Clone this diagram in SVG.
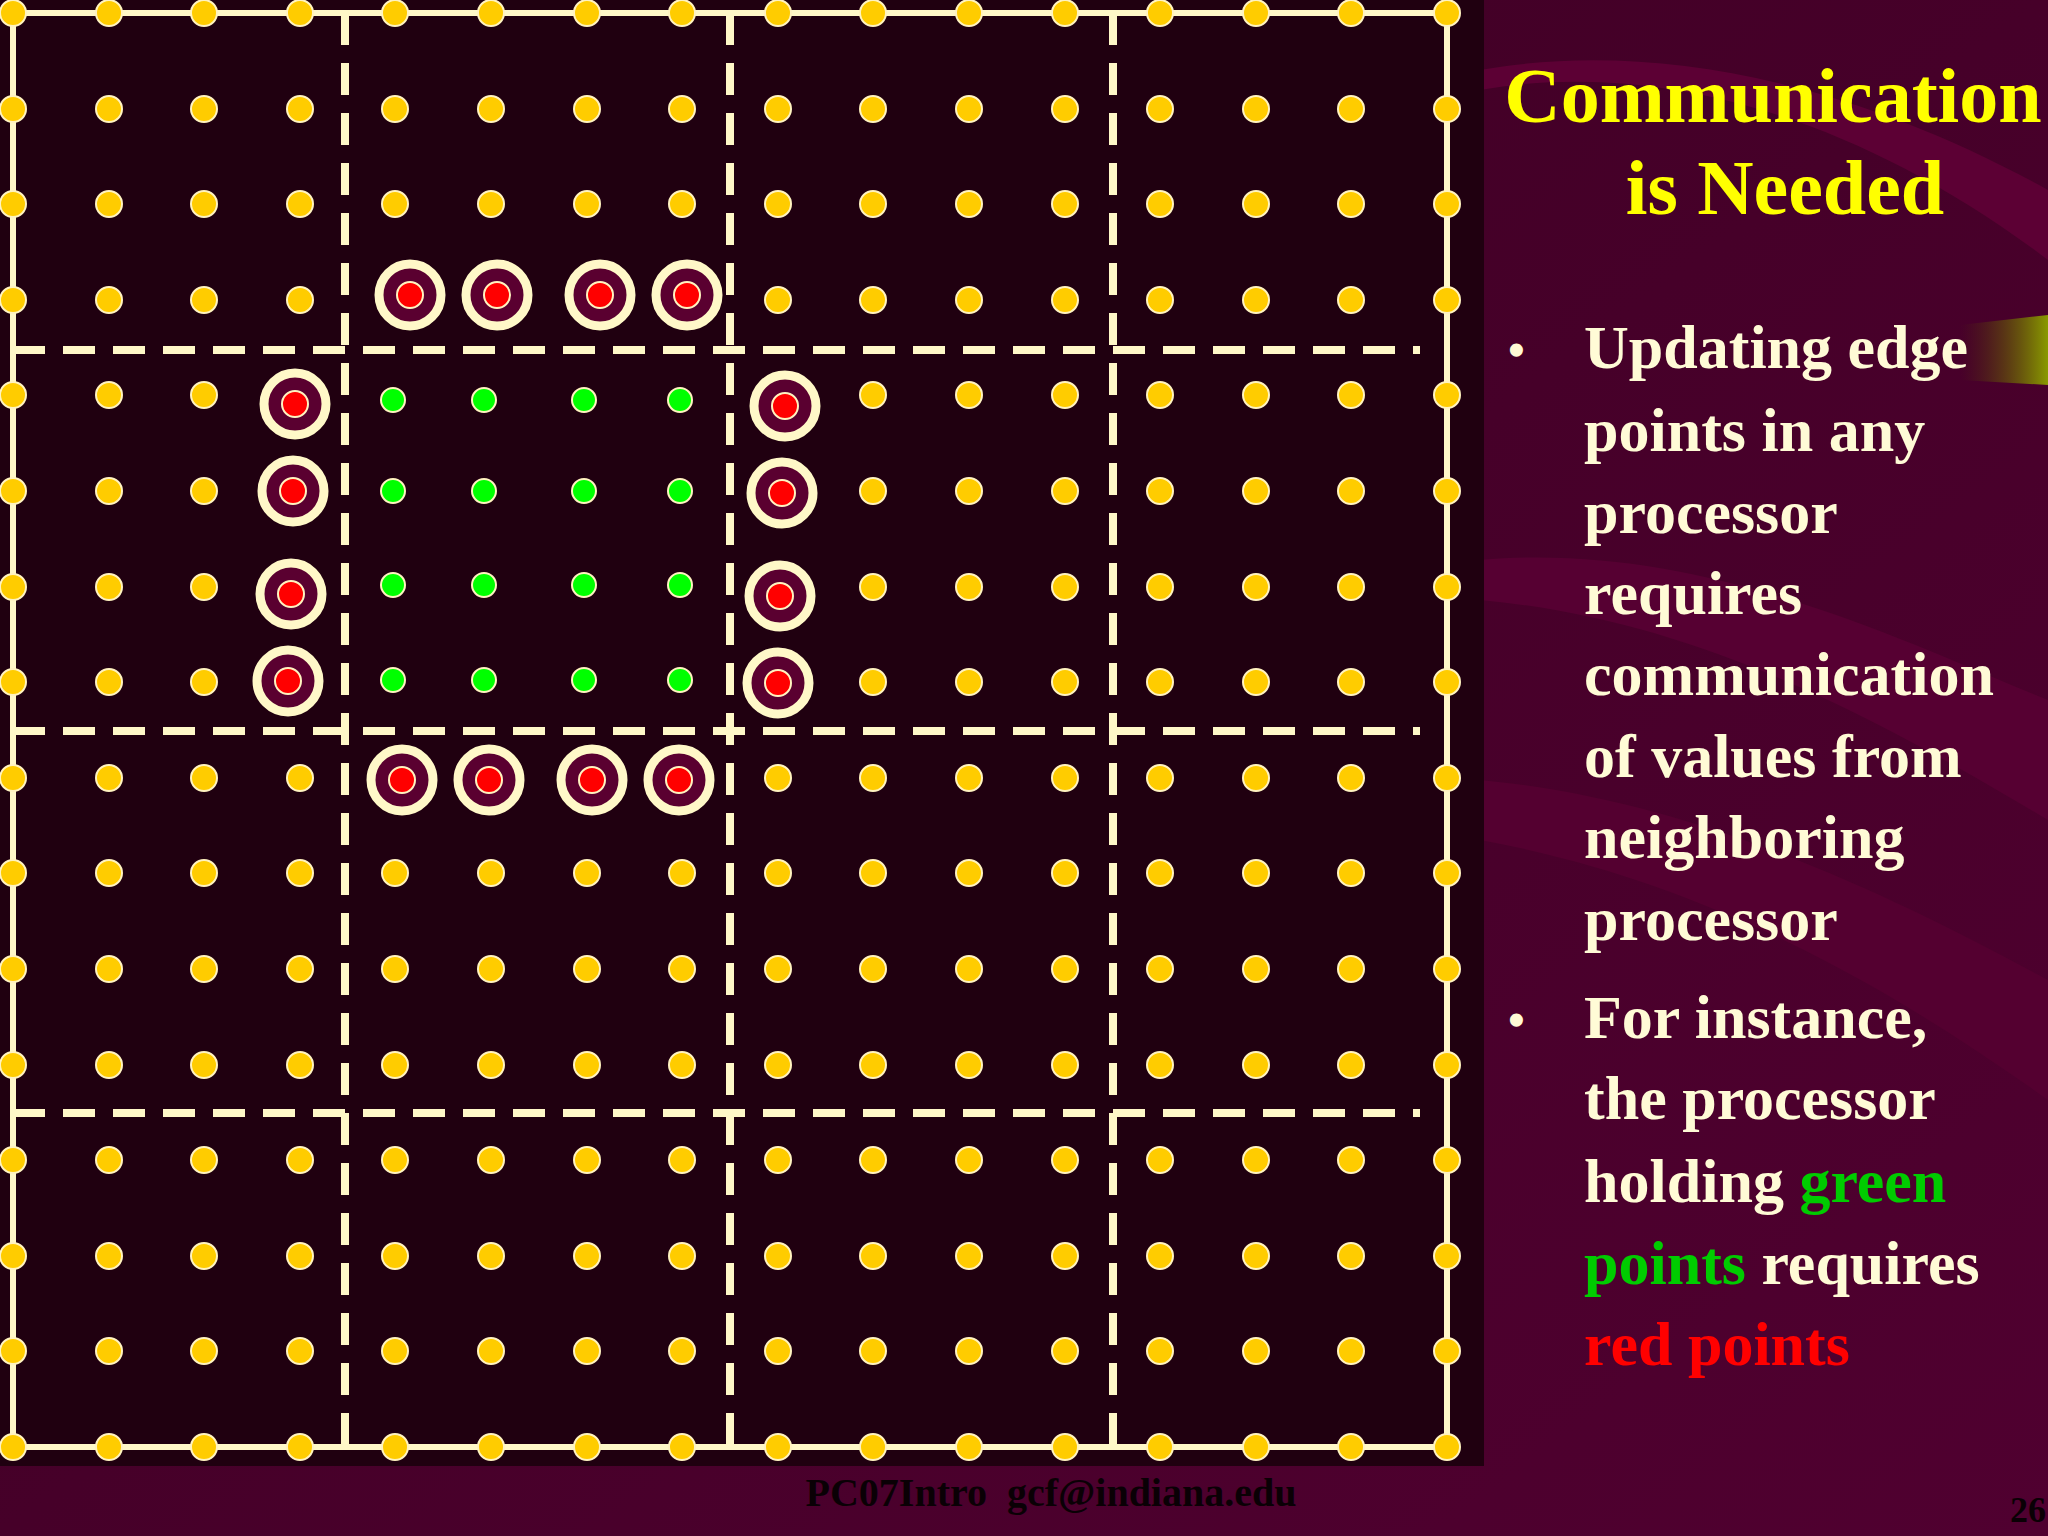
<svg xmlns="http://www.w3.org/2000/svg" width="2048" height="1536" viewBox="0 0 2048 1536">
<style>
.y{fill:#ffcc00;stroke:#fff3c0;stroke-width:2}
.g{fill:#00ff00;stroke:#fff3c0;stroke-width:2}
.ring{fill:#5a0030;stroke:#fff8c8;stroke-width:9}
.red{fill:#ff0000;stroke:#fff3c0;stroke-width:2}
.d{stroke:#fff8c8;stroke-width:8;stroke-dasharray:32 18;fill:none}
.t{font-family:"Liberation Serif",serif;font-weight:bold}
.b{fill:#fffbd6;font-size:62px}
</style>
<defs>
<linearGradient id="bg" x1="0" y1="0" x2="1" y2="1"><stop offset="0" stop-color="#3c0022"/><stop offset="1" stop-color="#500030"/></linearGradient>
<linearGradient id="ban" x1="0" x2="1"><stop offset="0" stop-color="#4a3a00" stop-opacity="0"/><stop offset="1" stop-color="#8a9a00"/></linearGradient>
</defs>
<rect width="2048" height="1536" fill="url(#bg)"/>
<path d="M1480 90 C1650 60 1850 110 2048 260 L2048 190 C1850 80 1650 40 1480 70Z" fill="#5c0034"/>
<path d="M1480 560 C1700 540 1900 640 2048 700 L2048 820 C1880 720 1700 620 1480 600Z" fill="#560032"/>
<path d="M1480 780 C1700 800 1900 900 2048 980 L2048 1100 C1880 980 1700 880 1480 840Z" fill="#540030"/>
<path d="M1960 325 L2048 315 L2048 385 L1960 380Z" fill="url(#ban)"/>
<rect x="0" y="0" width="1484" height="1466" fill="#200010"/>
<g id="grid">
<rect x="13" y="13" width="1434" height="1434" fill="none" stroke="#fff8c8" stroke-width="6"/>
<path class="d" d="M345 13V1447M730 13V1447M1113 13V1447M13 350H1420M13 731H1420M13 1113H1420"/>
</g>
<g id="points">
<g class="y">
<circle cx="13" cy="13" r="13"/><circle cx="109" cy="13" r="13"/><circle cx="204" cy="13" r="13"/><circle cx="300" cy="13" r="13"/><circle cx="395" cy="13" r="13"/><circle cx="491" cy="13" r="13"/><circle cx="587" cy="13" r="13"/><circle cx="682" cy="13" r="13"/><circle cx="778" cy="13" r="13"/><circle cx="873" cy="13" r="13"/><circle cx="969" cy="13" r="13"/><circle cx="1065" cy="13" r="13"/><circle cx="1160" cy="13" r="13"/><circle cx="1256" cy="13" r="13"/><circle cx="1351" cy="13" r="13"/><circle cx="1447" cy="13" r="13"/>
<circle cx="13" cy="109" r="13"/><circle cx="109" cy="109" r="13"/><circle cx="204" cy="109" r="13"/><circle cx="300" cy="109" r="13"/><circle cx="395" cy="109" r="13"/><circle cx="491" cy="109" r="13"/><circle cx="587" cy="109" r="13"/><circle cx="682" cy="109" r="13"/><circle cx="778" cy="109" r="13"/><circle cx="873" cy="109" r="13"/><circle cx="969" cy="109" r="13"/><circle cx="1065" cy="109" r="13"/><circle cx="1160" cy="109" r="13"/><circle cx="1256" cy="109" r="13"/><circle cx="1351" cy="109" r="13"/><circle cx="1447" cy="109" r="13"/>
<circle cx="13" cy="204" r="13"/><circle cx="109" cy="204" r="13"/><circle cx="204" cy="204" r="13"/><circle cx="300" cy="204" r="13"/><circle cx="395" cy="204" r="13"/><circle cx="491" cy="204" r="13"/><circle cx="587" cy="204" r="13"/><circle cx="682" cy="204" r="13"/><circle cx="778" cy="204" r="13"/><circle cx="873" cy="204" r="13"/><circle cx="969" cy="204" r="13"/><circle cx="1065" cy="204" r="13"/><circle cx="1160" cy="204" r="13"/><circle cx="1256" cy="204" r="13"/><circle cx="1351" cy="204" r="13"/><circle cx="1447" cy="204" r="13"/>
<circle cx="13" cy="300" r="13"/><circle cx="109" cy="300" r="13"/><circle cx="204" cy="300" r="13"/><circle cx="300" cy="300" r="13"/><circle cx="778" cy="300" r="13"/><circle cx="873" cy="300" r="13"/><circle cx="969" cy="300" r="13"/><circle cx="1065" cy="300" r="13"/><circle cx="1160" cy="300" r="13"/><circle cx="1256" cy="300" r="13"/><circle cx="1351" cy="300" r="13"/><circle cx="1447" cy="300" r="13"/>
<circle cx="13" cy="395" r="13"/><circle cx="109" cy="395" r="13"/><circle cx="204" cy="395" r="13"/><circle cx="873" cy="395" r="13"/><circle cx="969" cy="395" r="13"/><circle cx="1065" cy="395" r="13"/><circle cx="1160" cy="395" r="13"/><circle cx="1256" cy="395" r="13"/><circle cx="1351" cy="395" r="13"/><circle cx="1447" cy="395" r="13"/>
<circle cx="13" cy="491" r="13"/><circle cx="109" cy="491" r="13"/><circle cx="204" cy="491" r="13"/><circle cx="873" cy="491" r="13"/><circle cx="969" cy="491" r="13"/><circle cx="1065" cy="491" r="13"/><circle cx="1160" cy="491" r="13"/><circle cx="1256" cy="491" r="13"/><circle cx="1351" cy="491" r="13"/><circle cx="1447" cy="491" r="13"/>
<circle cx="13" cy="587" r="13"/><circle cx="109" cy="587" r="13"/><circle cx="204" cy="587" r="13"/><circle cx="873" cy="587" r="13"/><circle cx="969" cy="587" r="13"/><circle cx="1065" cy="587" r="13"/><circle cx="1160" cy="587" r="13"/><circle cx="1256" cy="587" r="13"/><circle cx="1351" cy="587" r="13"/><circle cx="1447" cy="587" r="13"/>
<circle cx="13" cy="682" r="13"/><circle cx="109" cy="682" r="13"/><circle cx="204" cy="682" r="13"/><circle cx="873" cy="682" r="13"/><circle cx="969" cy="682" r="13"/><circle cx="1065" cy="682" r="13"/><circle cx="1160" cy="682" r="13"/><circle cx="1256" cy="682" r="13"/><circle cx="1351" cy="682" r="13"/><circle cx="1447" cy="682" r="13"/>
<circle cx="13" cy="778" r="13"/><circle cx="109" cy="778" r="13"/><circle cx="204" cy="778" r="13"/><circle cx="300" cy="778" r="13"/><circle cx="778" cy="778" r="13"/><circle cx="873" cy="778" r="13"/><circle cx="969" cy="778" r="13"/><circle cx="1065" cy="778" r="13"/><circle cx="1160" cy="778" r="13"/><circle cx="1256" cy="778" r="13"/><circle cx="1351" cy="778" r="13"/><circle cx="1447" cy="778" r="13"/>
<circle cx="13" cy="873" r="13"/><circle cx="109" cy="873" r="13"/><circle cx="204" cy="873" r="13"/><circle cx="300" cy="873" r="13"/><circle cx="395" cy="873" r="13"/><circle cx="491" cy="873" r="13"/><circle cx="587" cy="873" r="13"/><circle cx="682" cy="873" r="13"/><circle cx="778" cy="873" r="13"/><circle cx="873" cy="873" r="13"/><circle cx="969" cy="873" r="13"/><circle cx="1065" cy="873" r="13"/><circle cx="1160" cy="873" r="13"/><circle cx="1256" cy="873" r="13"/><circle cx="1351" cy="873" r="13"/><circle cx="1447" cy="873" r="13"/>
<circle cx="13" cy="969" r="13"/><circle cx="109" cy="969" r="13"/><circle cx="204" cy="969" r="13"/><circle cx="300" cy="969" r="13"/><circle cx="395" cy="969" r="13"/><circle cx="491" cy="969" r="13"/><circle cx="587" cy="969" r="13"/><circle cx="682" cy="969" r="13"/><circle cx="778" cy="969" r="13"/><circle cx="873" cy="969" r="13"/><circle cx="969" cy="969" r="13"/><circle cx="1065" cy="969" r="13"/><circle cx="1160" cy="969" r="13"/><circle cx="1256" cy="969" r="13"/><circle cx="1351" cy="969" r="13"/><circle cx="1447" cy="969" r="13"/>
<circle cx="13" cy="1065" r="13"/><circle cx="109" cy="1065" r="13"/><circle cx="204" cy="1065" r="13"/><circle cx="300" cy="1065" r="13"/><circle cx="395" cy="1065" r="13"/><circle cx="491" cy="1065" r="13"/><circle cx="587" cy="1065" r="13"/><circle cx="682" cy="1065" r="13"/><circle cx="778" cy="1065" r="13"/><circle cx="873" cy="1065" r="13"/><circle cx="969" cy="1065" r="13"/><circle cx="1065" cy="1065" r="13"/><circle cx="1160" cy="1065" r="13"/><circle cx="1256" cy="1065" r="13"/><circle cx="1351" cy="1065" r="13"/><circle cx="1447" cy="1065" r="13"/>
<circle cx="13" cy="1160" r="13"/><circle cx="109" cy="1160" r="13"/><circle cx="204" cy="1160" r="13"/><circle cx="300" cy="1160" r="13"/><circle cx="395" cy="1160" r="13"/><circle cx="491" cy="1160" r="13"/><circle cx="587" cy="1160" r="13"/><circle cx="682" cy="1160" r="13"/><circle cx="778" cy="1160" r="13"/><circle cx="873" cy="1160" r="13"/><circle cx="969" cy="1160" r="13"/><circle cx="1065" cy="1160" r="13"/><circle cx="1160" cy="1160" r="13"/><circle cx="1256" cy="1160" r="13"/><circle cx="1351" cy="1160" r="13"/><circle cx="1447" cy="1160" r="13"/>
<circle cx="13" cy="1256" r="13"/><circle cx="109" cy="1256" r="13"/><circle cx="204" cy="1256" r="13"/><circle cx="300" cy="1256" r="13"/><circle cx="395" cy="1256" r="13"/><circle cx="491" cy="1256" r="13"/><circle cx="587" cy="1256" r="13"/><circle cx="682" cy="1256" r="13"/><circle cx="778" cy="1256" r="13"/><circle cx="873" cy="1256" r="13"/><circle cx="969" cy="1256" r="13"/><circle cx="1065" cy="1256" r="13"/><circle cx="1160" cy="1256" r="13"/><circle cx="1256" cy="1256" r="13"/><circle cx="1351" cy="1256" r="13"/><circle cx="1447" cy="1256" r="13"/>
<circle cx="13" cy="1351" r="13"/><circle cx="109" cy="1351" r="13"/><circle cx="204" cy="1351" r="13"/><circle cx="300" cy="1351" r="13"/><circle cx="395" cy="1351" r="13"/><circle cx="491" cy="1351" r="13"/><circle cx="587" cy="1351" r="13"/><circle cx="682" cy="1351" r="13"/><circle cx="778" cy="1351" r="13"/><circle cx="873" cy="1351" r="13"/><circle cx="969" cy="1351" r="13"/><circle cx="1065" cy="1351" r="13"/><circle cx="1160" cy="1351" r="13"/><circle cx="1256" cy="1351" r="13"/><circle cx="1351" cy="1351" r="13"/><circle cx="1447" cy="1351" r="13"/>
<circle cx="13" cy="1447" r="13"/><circle cx="109" cy="1447" r="13"/><circle cx="204" cy="1447" r="13"/><circle cx="300" cy="1447" r="13"/><circle cx="395" cy="1447" r="13"/><circle cx="491" cy="1447" r="13"/><circle cx="587" cy="1447" r="13"/><circle cx="682" cy="1447" r="13"/><circle cx="778" cy="1447" r="13"/><circle cx="873" cy="1447" r="13"/><circle cx="969" cy="1447" r="13"/><circle cx="1065" cy="1447" r="13"/><circle cx="1160" cy="1447" r="13"/><circle cx="1256" cy="1447" r="13"/><circle cx="1351" cy="1447" r="13"/><circle cx="1447" cy="1447" r="13"/>
</g>
<g class="g">
<circle cx="393" cy="400" r="12"/><circle cx="484" cy="400" r="12"/><circle cx="584" cy="400" r="12"/><circle cx="680" cy="400" r="12"/>
<circle cx="393" cy="491" r="12"/><circle cx="484" cy="491" r="12"/><circle cx="584" cy="491" r="12"/><circle cx="680" cy="491" r="12"/>
<circle cx="393" cy="585" r="12"/><circle cx="484" cy="585" r="12"/><circle cx="584" cy="585" r="12"/><circle cx="680" cy="585" r="12"/>
<circle cx="393" cy="680" r="12"/><circle cx="484" cy="680" r="12"/><circle cx="584" cy="680" r="12"/><circle cx="680" cy="680" r="12"/>
</g>
<g class="ring">
<circle cx="410" cy="295" r="31"/><circle cx="497" cy="295" r="31"/><circle cx="600" cy="295" r="31"/><circle cx="687" cy="295" r="31"/>
<circle cx="402" cy="780" r="31"/><circle cx="489" cy="780" r="31"/><circle cx="592" cy="780" r="31"/><circle cx="679" cy="780" r="31"/>
<circle cx="295" cy="404" r="31"/><circle cx="293" cy="491" r="31"/><circle cx="291" cy="594" r="31"/><circle cx="288" cy="681" r="31"/>
<circle cx="785" cy="406" r="31"/><circle cx="782" cy="493" r="31"/><circle cx="780" cy="596" r="31"/><circle cx="778" cy="683" r="31"/>
</g>
<g class="red">
<circle cx="410" cy="295" r="13"/><circle cx="497" cy="295" r="13"/><circle cx="600" cy="295" r="13"/><circle cx="687" cy="295" r="13"/>
<circle cx="402" cy="780" r="13"/><circle cx="489" cy="780" r="13"/><circle cx="592" cy="780" r="13"/><circle cx="679" cy="780" r="13"/>
<circle cx="295" cy="404" r="13"/><circle cx="293" cy="491" r="13"/><circle cx="291" cy="594" r="13"/><circle cx="288" cy="681" r="13"/>
<circle cx="785" cy="406" r="13"/><circle cx="782" cy="493" r="13"/><circle cx="780" cy="596" r="13"/><circle cx="778" cy="683" r="13"/>
</g>
</g>
<g id="title" class="t" fill="#ffff00" font-size="78" text-anchor="middle">
<text x="1773" y="122">Communication</text>
<text x="1785" y="214">is Needed</text>
</g>
<g id="bullets" class="t b">
<text x="1508" y="366" font-size="48">•</text>
<text x="1584" y="368">Updating edge</text>
<text x="1584" y="451">points in any</text>
<text x="1584" y="533">processor</text>
<text x="1584" y="614">requires</text>
<text x="1584" y="695">communication</text>
<text x="1584" y="777">of values from</text>
<text x="1584" y="858">neighboring</text>
<text x="1584" y="940">processor</text>
<text x="1508" y="1036" font-size="48">•</text>
<text x="1584" y="1038">For instance,</text>
<text x="1584" y="1119">the processor</text>
<text x="1584" y="1202">holding <tspan fill="#00cc00">green</tspan></text>
<text x="1584" y="1284"><tspan fill="#00cc00">points</tspan> requires</text>
<text x="1584" y="1365" fill="#ff0000">red points</text>
</g>
<g id="footer" class="t" fill="#0a0005">
<text x="1051" y="1506" font-size="40" text-anchor="middle" xml:space="preserve">PC07Intro  gcf@indiana.edu</text>
<text x="2010" y="1522" font-size="36">26</text>
</g>
</svg>
